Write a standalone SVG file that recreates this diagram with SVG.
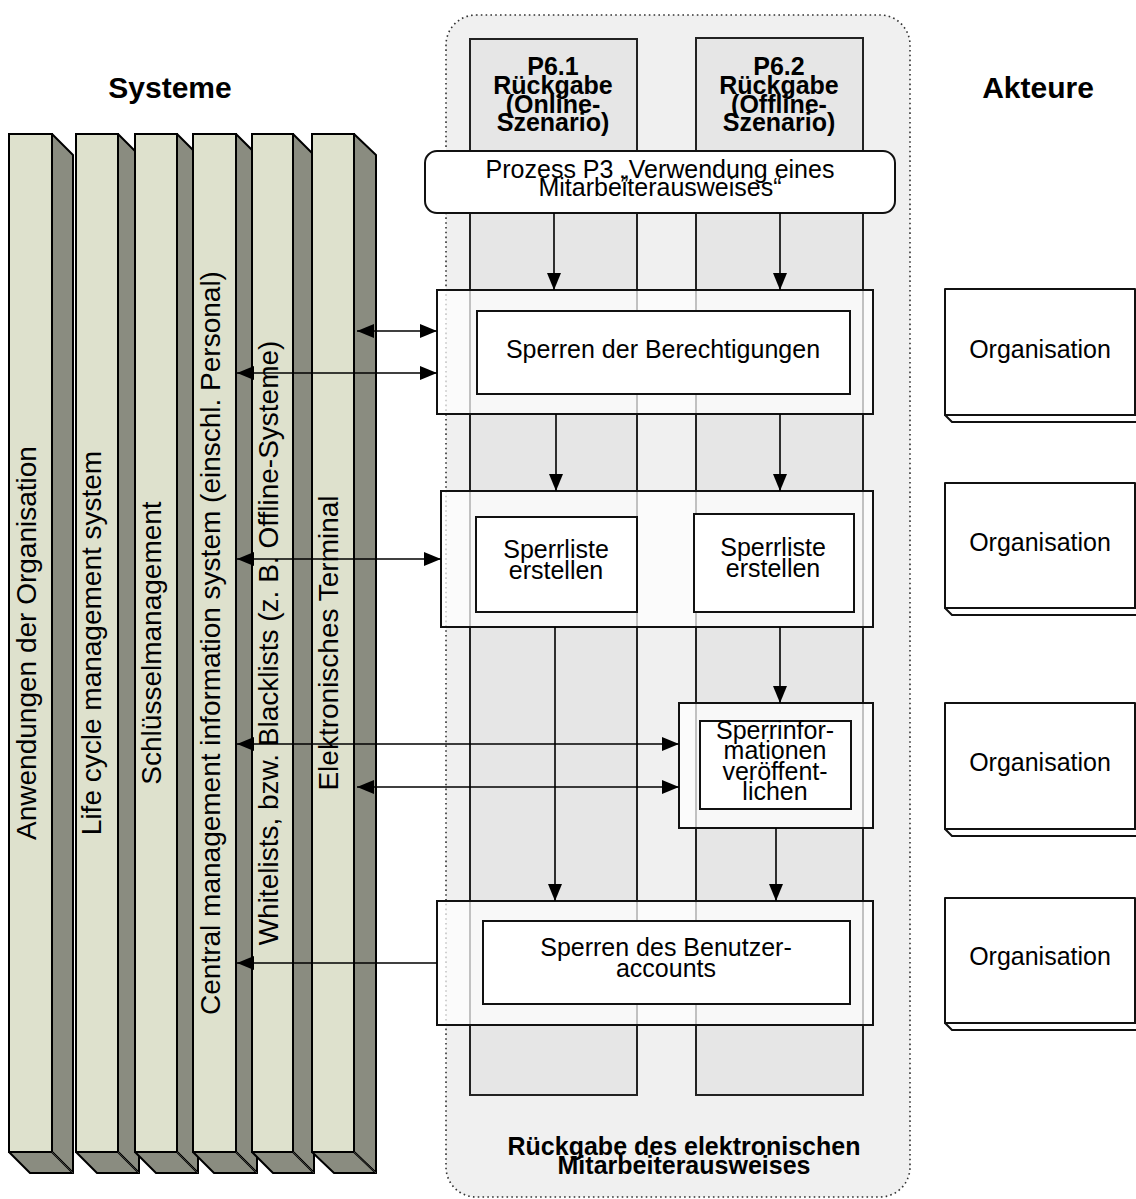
<svg xmlns="http://www.w3.org/2000/svg" width="1136" height="1199" viewBox="0 0 1136 1199">
  <defs>
    <marker id="arrow" viewBox="0 0 17 14" refX="17" refY="7" markerWidth="17" markerHeight="14" markerUnits="userSpaceOnUse" orient="auto-start-reverse">
      <path d="M0,0 L17,7 L0,14 z" fill="#000"/>
    </marker>
    <style>
      .title { font-family: "Liberation Sans", Arial, sans-serif; font-weight: bold; font-size: 30px; fill: #000; text-anchor: middle; }
      .col-front { fill: #dee1cd; stroke: #000; stroke-width: 2; }
      .col-side { fill: #8a8c80; stroke: #000; stroke-width: 2; stroke-linejoin: round; }
      .col-edge { stroke: #3c3d38; stroke-width: 1; fill: none; }
      .col-text { font-family: "Liberation Sans", Arial, sans-serif; font-size: 28px; fill: #000; text-anchor: middle; }
      .container { fill: #f0f0f0; stroke: #333; stroke-width: 1.6; stroke-dasharray: 1.6 3.2; }
      .lane { fill: #e6e6e6; stroke: #222; stroke-width: 2; }
      .lane-text { font-family: "Liberation Sans", Arial, sans-serif; font-weight: bold; font-size: 25px; fill: #000; text-anchor: middle; }
      .frame { fill: #ffffff; fill-opacity: 0.72; stroke: #111; stroke-width: 2; }
      .box { fill: #fff; stroke: #111; stroke-width: 2; }
      .label { font-family: "Liberation Sans", Arial, sans-serif; font-size: 25px; fill: #000; text-anchor: middle; }
      .conn { stroke: #000; stroke-width: 1.6; fill: none; }
      .actor { fill: #fff; stroke: #111; stroke-width: 2; stroke-linejoin: round; }
    </style>
  </defs>

  <rect width="1136" height="1199" fill="#fff"/>

  <!-- Headings -->
  <text class="title" x="170" y="98">Systeme</text>
  <text class="title" x="1038" y="98">Akteure</text>

  <!-- System columns (extruded bars) -->
  <g id="sys-anwendungen">
    <rect class="col-front" x="9" y="134" width="43" height="1018"/>
    <polygon class="col-side" points="52,134 73,155 73,1173 52,1152"/>
    <polygon class="col-side" points="9,1152 52,1152 73,1173 30,1173"/>
    <line class="col-edge" x1="52" y1="1152" x2="73" y2="1173"/>
    <text class="col-text" transform="translate(36,643) rotate(-90)">Anwendungen der Organisation</text>
  </g>
  <g id="sys-lifecycle">
    <rect class="col-front" x="76" y="134" width="42" height="1018"/>
    <polygon class="col-side" points="118,134 139,155 139,1173 118,1152"/>
    <polygon class="col-side" points="76,1152 118,1152 139,1173 97,1173"/>
    <line class="col-edge" x1="118" y1="1152" x2="139" y2="1173"/>
    <text class="col-text" transform="translate(101,643) rotate(-90)">Life cycle management system</text>
  </g>
  <g id="sys-schluessel">
    <rect class="col-front" x="135" y="134" width="42" height="1018"/>
    <polygon class="col-side" points="177,134 198,155 198,1173 177,1152"/>
    <polygon class="col-side" points="135,1152 177,1152 198,1173 156,1173"/>
    <line class="col-edge" x1="177" y1="1152" x2="198" y2="1173"/>
    <text class="col-text" transform="translate(161,643) rotate(-90)">Schlüsselmanagement</text>
  </g>
  <g id="sys-cmis">
    <rect class="col-front" x="193" y="134" width="43" height="1018"/>
    <polygon class="col-side" points="236,134 257,155 257,1173 236,1152"/>
    <polygon class="col-side" points="193,1152 236,1152 257,1173 214,1173"/>
    <line class="col-edge" x1="236" y1="1152" x2="257" y2="1173"/>
    <text class="col-text" transform="translate(220,643) rotate(-90)">Central management information system (einschl. Personal)</text>
  </g>
  <g id="sys-lists">
    <rect class="col-front" x="252" y="134" width="41" height="1018"/>
    <polygon class="col-side" points="293,134 314,155 314,1173 293,1152"/>
    <polygon class="col-side" points="252,1152 293,1152 314,1173 273,1173"/>
    <line class="col-edge" x1="293" y1="1152" x2="314" y2="1173"/>
    <text class="col-text" transform="translate(278,643) rotate(-90)">Whitelists, bzw. Blacklists (z. B. Offline-Systeme)</text>
  </g>
  <g id="sys-terminal">
    <rect class="col-front" x="312" y="134" width="42" height="1018"/>
    <polygon class="col-side" points="354,134 376,155 376,1173 354,1152"/>
    <polygon class="col-side" points="312,1152 354,1152 376,1173 334,1173"/>
    <line class="col-edge" x1="354" y1="1152" x2="376" y2="1173"/>
    <text class="col-text" transform="translate(338,643) rotate(-90)">Elektronisches Terminal</text>
  </g>

  <!-- Process container -->
  <g id="process-p6">
    <rect class="container" x="446" y="15" width="464" height="1182" rx="30"/>
    <text class="lane-text" x="684" y="1155">Rückgabe des elektronischen</text>
    <text class="lane-text" x="684" y="1174">Mitarbeiterausweises</text>
  </g>

  <!-- Swimlanes -->
  <g id="lane-p61">
    <rect class="lane" x="470" y="39" width="167" height="1056"/>
    <text class="lane-text" x="553" y="75">P6.1</text>
    <text class="lane-text" x="553" y="94">Rückgabe</text>
    <text class="lane-text" x="553" y="113">(Online-</text>
    <text class="lane-text" x="553" y="131">Szenario)</text>
  </g>
  <g id="lane-p62">
    <rect class="lane" x="696" y="38" width="167" height="1057"/>
    <text class="lane-text" x="779" y="75">P6.2</text>
    <text class="lane-text" x="779" y="94">Rückgabe</text>
    <text class="lane-text" x="779" y="113">(Offline-</text>
    <text class="lane-text" x="779" y="131">Szenario)</text>
  </g>

  <!-- Trigger process -->
  <g id="p3">
    <rect class="box" x="425" y="151" width="470" height="62" rx="12"/>
    <text class="label" x="660" y="178">Prozess P3  „Verwendung eines</text>
    <text class="label" x="660" y="196">Mitarbeiterausweises“</text>
  </g>

  <!-- Step 1 -->
  <g id="step-berechtigungen">
    <rect class="frame" x="437" y="290" width="436" height="124"/>
    <rect class="box" x="477" y="311" width="373" height="83"/>
    <text class="label" x="663" y="358">Sperren der Berechtigungen</text>
  </g>

  <!-- Step 2 -->
  <g id="step-sperrliste">
    <rect class="frame" x="441" y="491" width="432" height="136"/>
    <rect class="box" x="476" y="517" width="161" height="95"/>
    <text class="label" x="556" y="558">Sperrliste</text>
    <text class="label" x="556" y="579">erstellen</text>
    <rect class="box" x="694" y="514" width="160" height="98"/>
    <text class="label" x="773" y="556">Sperrliste</text>
    <text class="label" x="773" y="577">erstellen</text>
  </g>

  <!-- Step 3 -->
  <g id="step-veroeffentlichen">
    <rect class="frame" x="679" y="703" width="194" height="125"/>
    <rect class="box" x="700" y="721" width="151" height="88"/>
    <text class="label" x="775" y="739">Sperrinfor-</text>
    <text class="label" x="775" y="759">mationen</text>
    <text class="label" x="775" y="780">veröffent-</text>
    <text class="label" x="775" y="800">lichen</text>
  </g>

  <!-- Step 4 -->
  <g id="step-benutzeraccount">
    <rect class="frame" x="437" y="901" width="436" height="124"/>
    <rect class="box" x="483" y="921" width="367" height="83"/>
    <text class="label" x="666" y="956">Sperren des Benutzer-</text>
    <text class="label" x="666" y="977">accounts</text>
  </g>

  <!-- Actors -->
  <g id="actor-1">
    <polygon class="actor" points="945,415 952,422 1137,422 1137,415"/>
    <rect class="actor" x="945" y="289" width="190" height="126"/>
    <text class="label" x="1040" y="358">Organisation</text>
  </g>
  <g id="actor-2">
    <polygon class="actor" points="945,608 952,615 1137,615 1137,608"/>
    <rect class="actor" x="945" y="483" width="190" height="125"/>
    <text class="label" x="1040" y="551">Organisation</text>
  </g>
  <g id="actor-3">
    <polygon class="actor" points="945,829 952,836 1137,836 1137,829"/>
    <rect class="actor" x="945" y="703" width="190" height="126"/>
    <text class="label" x="1040" y="771">Organisation</text>
  </g>
  <g id="actor-4">
    <polygon class="actor" points="945,1023 952,1030 1137,1030 1137,1023"/>
    <rect class="actor" x="945" y="898" width="190" height="125"/>
    <text class="label" x="1040" y="965">Organisation</text>
  </g>

  <!-- Connectors -->
  <g id="connectors">
    <!-- control flow -->
    <line class="conn" x1="554" y1="213" x2="554" y2="290" marker-end="url(#arrow)"/>
    <line class="conn" x1="780" y1="213" x2="780" y2="290" marker-end="url(#arrow)"/>
    <line class="conn" x1="556" y1="414" x2="556" y2="491" marker-end="url(#arrow)"/>
    <line class="conn" x1="780" y1="414" x2="780" y2="491" marker-end="url(#arrow)"/>
    <line class="conn" x1="780" y1="627" x2="780" y2="703" marker-end="url(#arrow)"/>
    <line class="conn" x1="555" y1="627" x2="555" y2="901" marker-end="url(#arrow)"/>
    <line class="conn" x1="776" y1="828" x2="776" y2="901" marker-end="url(#arrow)"/>
    <!-- system interfaces -->
    <line class="conn" x1="357" y1="331" x2="437" y2="331" marker-start="url(#arrow)" marker-end="url(#arrow)"/>
    <line class="conn" x1="237" y1="373" x2="437" y2="373" marker-start="url(#arrow)" marker-end="url(#arrow)"/>
    <line class="conn" x1="237" y1="559" x2="441" y2="559" marker-start="url(#arrow)" marker-end="url(#arrow)"/>
    <line class="conn" x1="237" y1="744" x2="679" y2="744" marker-start="url(#arrow)" marker-end="url(#arrow)"/>
    <line class="conn" x1="357" y1="787" x2="679" y2="787" marker-start="url(#arrow)" marker-end="url(#arrow)"/>
    <line class="conn" x1="437" y1="963" x2="237" y2="963" marker-end="url(#arrow)"/>
  </g>
</svg>
